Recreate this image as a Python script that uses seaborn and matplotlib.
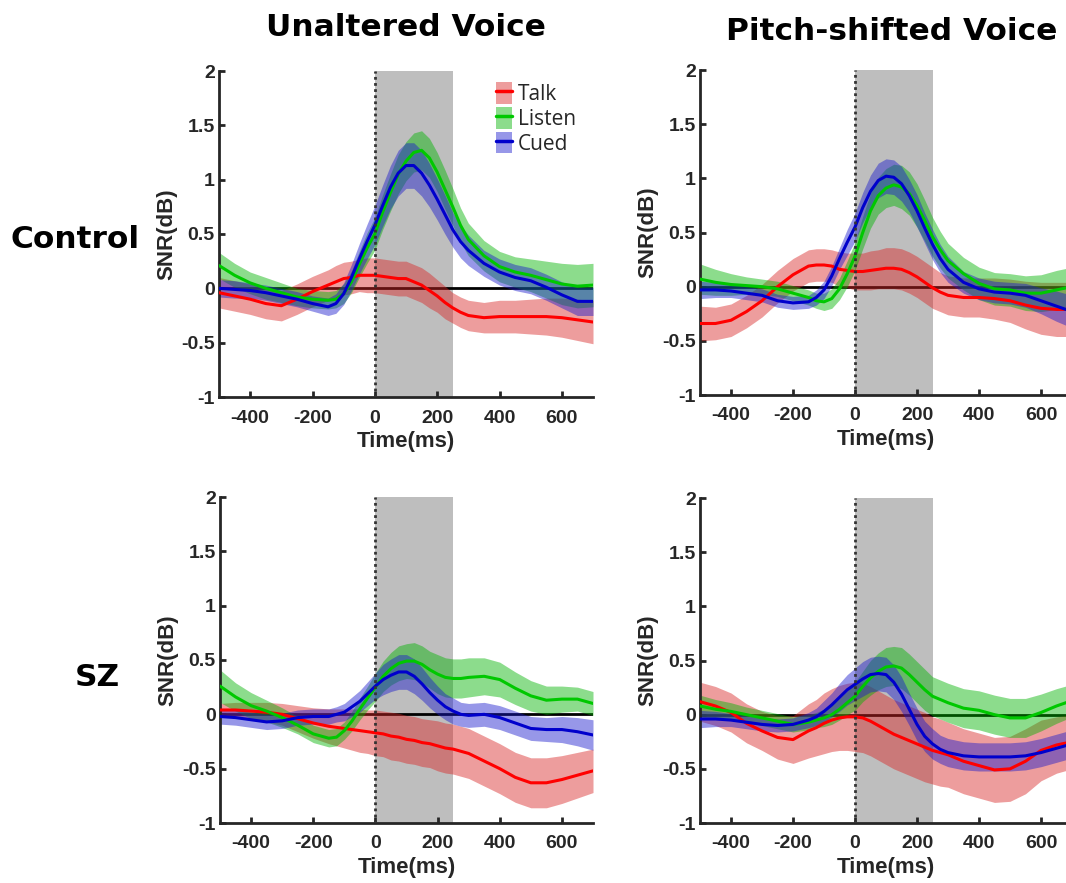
import pandas as pd
import matplotlib.pyplot as plt
import seaborn as sns
from matplotlib.patches import Patch
from matplotlib.lines import Line2D

# time axis (ms): 50 ms steps in the tails, 25 ms around the response
time = [-500, -450, -400, -350, -300, -250, -200,
        -150, -125, -100, -75, -50, -25, 0, 25, 50, 75, 100, 125, 150, 175, 200, 225, 250, 275, 300,
        350, 400, 450, 500, 550, 600, 650, 700]

conditions = ["Talk", "Listen", "Cued"]
col_titles = ["Unaltered Voice", "Pitch-shifted Voice"]
row_titles = ["Control", "SZ"]
x_ticks = [-400, -200, 0, 200, 400, 600]
y_ticks = [-1, -0.5, 0, 0.5, 1, 1.5, 2]
y_ticklabels = ["-1", "-0.5", "0", "0.5", "1", "1.5", "2"]

# Control / Unaltered
tl_talk = [-0.04, -0.07, -0.10, -0.14, -0.16, -0.10, -0.03,
           0.03, 0.06, 0.09, 0.10, 0.12, 0.12, 0.12, 0.11, 0.10, 0.09, 0.09, 0.06, 0.03, -0.02, -0.07, -0.13, -0.18, -0.22, -0.25,
           -0.27, -0.26, -0.26, -0.26, -0.26, -0.27, -0.29, -0.31]
tl_talk_sem = [0.14, 0.14, 0.14, 0.14, 0.14, 0.14, 0.14,
               0.14, 0.15, 0.15, 0.15, 0.15, 0.16, 0.16, 0.16, 0.16, 0.16, 0.16, 0.16, 0.16, 0.16, 0.15, 0.15, 0.14, 0.14, 0.14,
               0.14, 0.15, 0.15, 0.16, 0.17, 0.18, 0.19, 0.20]
tl_listen = [0.21, 0.12, 0.05, 0.00, -0.04, -0.08, -0.10,
             -0.11, -0.10, -0.05, 0.06, 0.22, 0.37, 0.50, 0.70, 0.88, 1.05, 1.17, 1.25, 1.27, 1.20, 1.07, 0.91, 0.75, 0.58, 0.45,
             0.30, 0.20, 0.15, 0.12, 0.08, 0.04, 0.02, 0.03]
tl_listen_sem = [0.12, 0.11, 0.10, 0.10, 0.09, 0.08, 0.08,
                 0.08, 0.08, 0.09, 0.10, 0.12, 0.14, 0.15, 0.16, 0.17, 0.18, 0.18, 0.18, 0.18, 0.18, 0.18, 0.18, 0.17, 0.16, 0.15,
                 0.14, 0.14, 0.14, 0.15, 0.17, 0.19, 0.20, 0.20]
tl_cued = [0.00, -0.01, -0.02, -0.04, -0.07, -0.10, -0.14,
           -0.17, -0.14, -0.05, 0.10, 0.27, 0.43, 0.58, 0.76, 0.93, 1.06, 1.13, 1.13, 1.06, 0.95, 0.82, 0.68, 0.54, 0.43, 0.35,
           0.23, 0.15, 0.10, 0.07, 0.01, -0.06, -0.12, -0.12]
tl_cued_sem = [0.08, 0.08, 0.07, 0.07, 0.07, 0.07, 0.07,
               0.08, 0.09, 0.10, 0.12, 0.14, 0.16, 0.18, 0.19, 0.20, 0.21, 0.21, 0.21, 0.21, 0.20, 0.19, 0.18, 0.16, 0.15, 0.14,
               0.12, 0.12, 0.12, 0.12, 0.12, 0.12, 0.13, 0.13]

# Control / Pitch-shifted
tr_talk = [-0.34, -0.34, -0.31, -0.23, -0.13, 0.00, 0.11,
           0.19, 0.20, 0.20, 0.19, 0.16, 0.15, 0.14, 0.14, 0.15, 0.16, 0.17, 0.17, 0.16, 0.13, 0.09, 0.04, -0.01, -0.05, -0.08,
           -0.10, -0.10, -0.11, -0.13, -0.17, -0.20, -0.21, -0.21]
tr_talk_sem = [0.16, 0.15, 0.15, 0.15, 0.15, 0.15, 0.15,
               0.15, 0.15, 0.15, 0.15, 0.16, 0.16, 0.17, 0.17, 0.18, 0.18, 0.19, 0.19, 0.19, 0.19, 0.19, 0.19, 0.19, 0.18, 0.18,
               0.18, 0.18, 0.19, 0.20, 0.22, 0.24, 0.25, 0.25]
tr_listen = [0.07, 0.04, 0.02, 0.01, 0.00, -0.02, -0.06,
             -0.10, -0.13, -0.14, -0.11, -0.02, 0.12, 0.28, 0.50, 0.70, 0.84, 0.91, 0.94, 0.92, 0.86, 0.75, 0.61, 0.46, 0.34, 0.24,
             0.12, 0.03, -0.02, -0.03, -0.06, -0.06, -0.03, 0.00]
tr_listen_sem = [0.14, 0.12, 0.10, 0.08, 0.07, 0.07, 0.07,
                 0.07, 0.07, 0.08, 0.09, 0.10, 0.12, 0.13, 0.15, 0.16, 0.17, 0.18, 0.19, 0.20, 0.20, 0.20, 0.19, 0.18, 0.17, 0.16,
                 0.15, 0.15, 0.15, 0.15, 0.16, 0.17, 0.18, 0.18]
tr_cued = [-0.03, -0.03, -0.04, -0.06, -0.08, -0.13, -0.15,
           -0.14, -0.10, -0.03, 0.10, 0.26, 0.41, 0.55, 0.73, 0.88, 0.98, 1.02, 1.01, 0.95, 0.84, 0.70, 0.54, 0.39, 0.26, 0.16,
           0.04, -0.02, -0.05, -0.06, -0.08, -0.13, -0.18, -0.23]
tr_cued_sem = [0.08, 0.07, 0.06, 0.06, 0.06, 0.06, 0.06,
               0.06, 0.07, 0.08, 0.09, 0.10, 0.12, 0.13, 0.14, 0.15, 0.16, 0.16, 0.16, 0.16, 0.15, 0.15, 0.14, 0.14, 0.13, 0.12,
               0.10, 0.10, 0.10, 0.10, 0.11, 0.12, 0.14, 0.15]

# SZ / Unaltered
bl_talk = [0.04, 0.04, 0.03, 0.02, 0.00, -0.04, -0.08,
           -0.11, -0.12, -0.13, -0.14, -0.15, -0.16, -0.17, -0.18, -0.20, -0.21, -0.23, -0.24, -0.26, -0.27, -0.29, -0.31, -0.32, -0.34, -0.36,
           -0.43, -0.50, -0.58, -0.63, -0.63, -0.60, -0.56, -0.52]
bl_talk_sem = [0.06, 0.07, 0.08, 0.09, 0.10, 0.12, 0.14,
               0.16, 0.17, 0.18, 0.19, 0.20, 0.20, 0.21, 0.21, 0.22, 0.22, 0.22, 0.22, 0.22, 0.22, 0.23, 0.23, 0.23, 0.23, 0.23,
               0.23, 0.23, 0.23, 0.23, 0.23, 0.22, 0.21, 0.20]
bl_listen = [0.26, 0.16, 0.08, 0.03, -0.03, -0.10, -0.18,
             -0.22, -0.21, -0.15, -0.06, 0.05, 0.15, 0.25, 0.35, 0.42, 0.47, 0.49, 0.49, 0.46, 0.41, 0.37, 0.34, 0.33, 0.33, 0.34,
             0.35, 0.32, 0.24, 0.17, 0.13, 0.14, 0.14, 0.10]
bl_listen_sem = [0.15, 0.13, 0.12, 0.10, 0.09, 0.08, 0.08,
                 0.08, 0.08, 0.08, 0.09, 0.10, 0.11, 0.13, 0.14, 0.15, 0.16, 0.16, 0.17, 0.17, 0.17, 0.18, 0.18, 0.18, 0.18, 0.18,
                 0.17, 0.16, 0.15, 0.14, 0.13, 0.12, 0.11, 0.11]
bl_cued = [-0.02, -0.03, -0.05, -0.07, -0.06, -0.03, -0.02,
           -0.02, 0.00, 0.02, 0.07, 0.12, 0.19, 0.26, 0.32, 0.36, 0.39, 0.39, 0.35, 0.28, 0.20, 0.13, 0.07, 0.03, 0.00, -0.01,
           0.00, -0.03, -0.08, -0.13, -0.14, -0.14, -0.16, -0.19]
bl_cued_sem = [0.07, 0.07, 0.07, 0.07, 0.07, 0.07, 0.07,
               0.07, 0.07, 0.08, 0.09, 0.10, 0.11, 0.12, 0.14, 0.15, 0.16, 0.16, 0.16, 0.15, 0.14, 0.13, 0.12, 0.12, 0.11, 0.11,
               0.11, 0.11, 0.11, 0.11, 0.11, 0.12, 0.13, 0.14]

# SZ / Pitch-shifted
br_talk = [0.12, 0.08, 0.02, -0.08, -0.15, -0.21, -0.23,
           -0.15, -0.12, -0.08, -0.05, -0.03, -0.02, -0.02, -0.03, -0.06, -0.10, -0.14, -0.18, -0.21, -0.24, -0.27, -0.30, -0.33, -0.35, -0.37,
           -0.43, -0.47, -0.51, -0.50, -0.43, -0.33, -0.28, -0.25]
br_talk_sem = [0.18, 0.18, 0.18, 0.18, 0.18, 0.20, 0.22,
               0.25, 0.26, 0.28, 0.29, 0.30, 0.31, 0.32, 0.32, 0.32, 0.32, 0.32, 0.32, 0.32, 0.32, 0.32, 0.32, 0.31, 0.31, 0.30,
               0.30, 0.30, 0.30, 0.30, 0.30, 0.28, 0.26, 0.25]
br_listen = [0.08, 0.05, 0.03, 0.00, -0.03, -0.06, -0.09,
             -0.07, -0.05, -0.03, 0.00, 0.05, 0.11, 0.17, 0.26, 0.34, 0.40, 0.44, 0.45, 0.43, 0.37, 0.30, 0.23, 0.17, 0.14, 0.11,
             0.06, 0.04, 0.00, -0.03, -0.03, 0.02, 0.08, 0.13]
br_listen_sem = [0.10, 0.09, 0.08, 0.07, 0.07, 0.07, 0.07,
                 0.07, 0.07, 0.08, 0.09, 0.10, 0.11, 0.13, 0.14, 0.16, 0.17, 0.18, 0.18, 0.19, 0.19, 0.19, 0.19, 0.18, 0.18, 0.18,
                 0.18, 0.18, 0.18, 0.18, 0.18, 0.17, 0.16, 0.15]
br_cued = [-0.04, -0.04, -0.05, -0.07, -0.09, -0.10, -0.09,
           -0.05, -0.02, 0.03, 0.09, 0.16, 0.23, 0.28, 0.33, 0.37, 0.38, 0.37, 0.30, 0.19, 0.05, -0.09, -0.20, -0.27, -0.32, -0.35,
           -0.38, -0.39, -0.39, -0.39, -0.38, -0.35, -0.31, -0.27]
br_cued_sem = [0.08, 0.07, 0.06, 0.06, 0.06, 0.06, 0.06,
               0.07, 0.08, 0.10, 0.11, 0.13, 0.14, 0.15, 0.16, 0.16, 0.16, 0.16, 0.16, 0.16, 0.15, 0.15, 0.14, 0.14, 0.13, 0.13,
               0.13, 0.13, 0.13, 0.13, 0.13, 0.13, 0.13, 0.13]

panels = [
    [(tl_talk, tl_talk_sem), (tl_listen, tl_listen_sem), (tl_cued, tl_cued_sem)],
    [(tr_talk, tr_talk_sem), (tr_listen, tr_listen_sem), (tr_cued, tr_cued_sem)],
    [(bl_talk, bl_talk_sem), (bl_listen, bl_listen_sem), (bl_cued, bl_cued_sem)],
    [(br_talk, br_talk_sem), (br_listen, br_listen_sem), (br_cued, br_cued_sem)],
]

line_colors = {"Talk": "#ff0000", "Listen": "#00c800", "Cued": "#0000cc"}
band_colors = {"Talk": (0.85, 0.15, 0.15), "Listen": (0.0, 0.7, 0.0), "Cued": (0.1, 0.1, 0.8)}
band_alpha = 0.45

sns.set_style("ticks")
plt.rcParams["font.family"] = ["Liberation Sans", "DejaVu Sans"]
plt.rcParams["axes.unicode_minus"] = False
dark = "#262626"

fig = plt.figure(figsize=(10.66, 8.83), dpi=100)
W, H = 1066, 883
# axes boxes in pixels: left, right, top, bottom
boxes = [(219, 593, 71, 397), (700, 1072, 70, 395),
         (220, 593, 497, 823), (700, 1072, 498, 823)]

axes = []
for (x0, x1, y0, y1), series in zip(boxes, panels):
    ax = fig.add_axes([x0 / W, (H - y1) / H, (x1 - x0) / W, (y1 - y0) / H])
    ax.axvspan(0, 250, color="#bebebe", lw=0, zorder=0)
    ax.axhline(0, color="black", lw=2, zorder=1)

    rows = []
    for cond, (mean, sem) in zip(conditions, series):
        lo = [m - s for m, s in zip(mean, sem)]
        hi = [m + s for m, s in zip(mean, sem)]
        ax.fill_between(time, lo, hi, color=band_colors[cond], alpha=band_alpha, lw=0, zorder=2)
        for t, m in zip(time, mean):
            rows.append({"time": t, "snr": m, "condition": cond})
    df = pd.DataFrame(rows)
    sns.lineplot(data=df, x="time", y="snr", hue="condition", hue_order=conditions,
                 palette=line_colors, linewidth=2.2, legend=False, errorbar=None,
                 ax=ax, zorder=3)

    ax.axvline(0, color="#333333", lw=2, ls=(0, (1, 1.2)), zorder=5)
    ax.set_xlim(-500, 700)
    ax.set_ylim(-1, 2)
    ax.set_xticks(x_ticks)
    ax.set_yticks(y_ticks)
    ax.set_yticklabels(y_ticklabels)
    sns.despine(ax=ax)
    for sp in ["left", "bottom"]:
        ax.spines[sp].set_linewidth(2)
        ax.spines[sp].set_color(dark)
    ax.tick_params(axis="both", direction="in", length=4, width=2, color=dark,
                   labelsize=14, labelcolor=dark)
    ax.tick_params(axis="x", pad=9)
    ax.tick_params(axis="y", pad=3)
    for lab in ax.get_xticklabels() + ax.get_yticklabels():
        lab.set_fontweight("bold")
    ax.set_xlabel("Time(ms)", fontsize=16, fontweight="bold", color=dark, labelpad=3)
    ax.set_ylabel("SNR(dB)", fontsize=16, fontweight="bold", color=dark, labelpad=3)
    axes.append(ax)

# legend in the first panel
handles = []
for cond in conditions:
    patch = Patch(facecolor=band_colors[cond], alpha=band_alpha, edgecolor="none")
    line = Line2D([], [], color=line_colors[cond], lw=2.5)
    handles.append((patch, line))
axes[0].legend(handles, conditions, loc="upper left", bbox_to_anchor=(0.74, 0.965),
               frameon=False, prop={"family": "Open Sans", "size": 15},
               handlelength=0.8, handleheight=1.2, handletextpad=0.25,
               labelspacing=0.1, borderpad=0, borderaxespad=0)

# column and row headings
head = dict(ha="center", va="center", fontsize=22.5, fontweight="bold",
            family="DejaVu Sans", color="black")
fig.text(406 / W, 1 - 28 / H, col_titles[0], **head)
fig.text(892 / W, 1 - 31 / H, col_titles[1], **head)
fig.text(75 / W, 1 - 240 / H, row_titles[0], **head)
fig.text(97 / W, 1 - 678 / H, row_titles[1], **head)

fig.savefig("out.png", dpi=100)
